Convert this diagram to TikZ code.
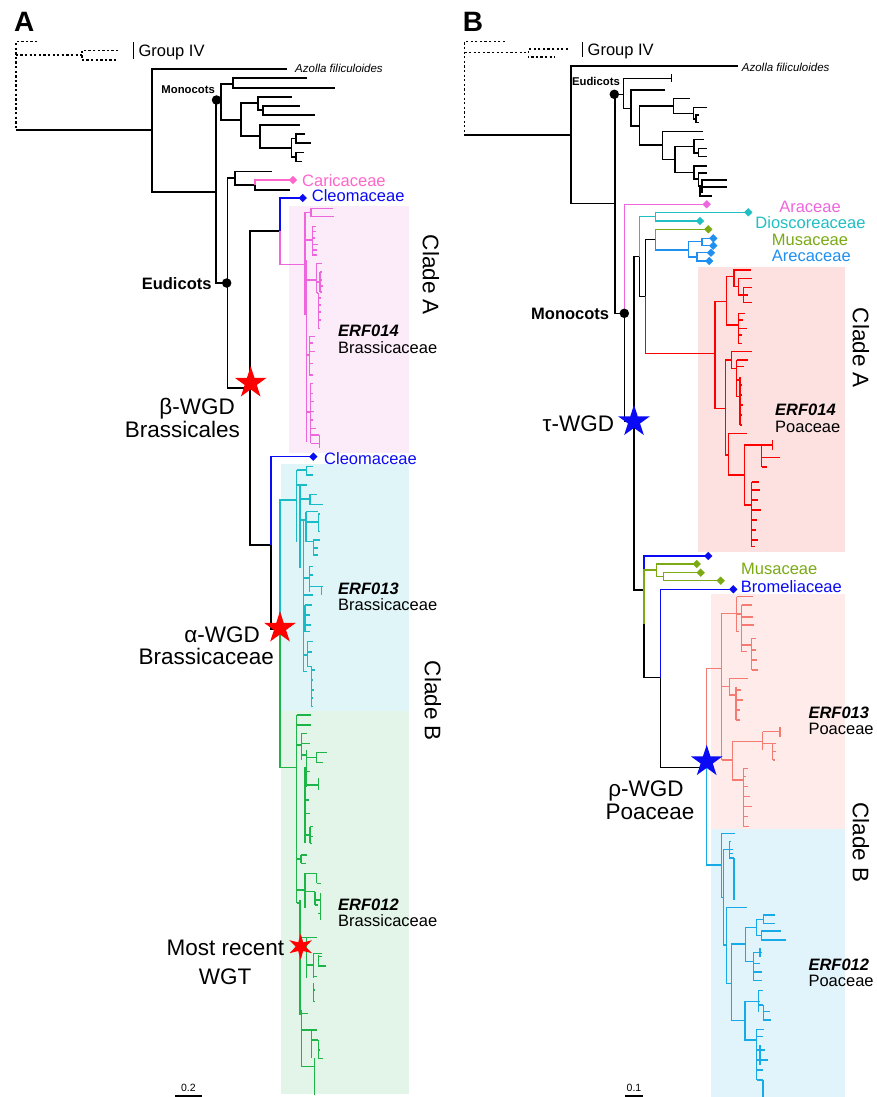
\documentclass[tikz,border=0pt]{standalone}
\usepackage{fontspec}
\setmainfont{Liberation Sans}
\usetikzlibrary{shapes.geometric}
\definecolor{apink}{HTML}{EE66DD}
\definecolor{cpink}{HTML}{FF66CC}
\definecolor{cblue}{HTML}{0A0AF5}
\definecolor{acyan}{HTML}{19BBC6}
\definecolor{agreen}{HTML}{1DB548}
\definecolor{bteal}{HTML}{1FBFC4}
\definecolor{bolive}{HTML}{7BAA15}
\definecolor{bsky}{HTML}{1F8FF0}
\definecolor{bred}{HTML}{FF0000}
\definecolor{bsalmon}{HTML}{F47B72}
\definecolor{blblue}{HTML}{16AAE6}
\definecolor{bgpink}{HTML}{FCECFA}
\definecolor{bgcyan}{HTML}{E0F5F8}
\definecolor{bggreen}{HTML}{E2F5E8}
\definecolor{bgred}{HTML}{FDE1E1}
\definecolor{bgsalmon}{HTML}{FEEBEA}
\definecolor{bglblue}{HTML}{E2F4FB}
\tikzset{
  tr/.style={line width=1.5pt},
  dotl/.style={line width=1.6pt, dash pattern=on 2.3pt off 2.3pt},
  sm/.style={font=\fontsize{16.5}{18}\selectfont, inner sep=0},
  smb/.style={font=\fontsize{16.5}{18}\selectfont\bfseries, inner sep=0},
  erf/.style={font=\fontsize{16.5}{18}\selectfont\bfseries\itshape, inner sep=0, anchor=base west},
  tiny/.style={font=\fontsize{11.3}{13}\selectfont\bfseries, inner sep=0},
  azo/.style={font=\fontsize{11.5}{13}\selectfont\itshape, inner sep=0, anchor=base west},
  big/.style={font=\fontsize{22.5}{25}\selectfont, inner sep=0},
  pan/.style={font=\fontsize{28}{30}\selectfont\bfseries, inner sep=0, anchor=base west},
  dmd/.style={diamond, inner sep=0, minimum width=8.5, minimum height=8.5, draw=none},
  ndot/.style={circle, fill=black, inner sep=0, minimum size=9.5},
  wstar/.style={star, star points=5, star point ratio=2.618, inner sep=0, minimum size=33.4, draw=none},
}
% horizontal: color, x1, y, x2
\newcommand\trH[4]{\draw[tr,#1] (#2,#3)--(#4,#3);}
% vertical: color, x, y1, y2
\newcommand\trV[4]{\draw[tr,#1] (#2,#3)--(#2,#4);}
% fork: color, x, ytop, xtopend, ybot, xbotend
\newcommand\trF[6]{\draw[tr,#1] (#4,#3)--(#2,#3)--(#2,#5)--(#6,#5);}
% bicolour fork: c1, c2, x, ytop, xtopend, ybot, xbotend, ymid
\newcommand\trB[8]{\draw[tr,#1] (#5,#4)--(#3,#4)--(#3,#8); \draw[tr,#2] (#3,#8)--(#3,#6)--(#7,#6);}
% comb: color, x, y1, y2, list y/xend
\newcommand\trC[5]{\draw[tr,#1] (#2,#3)--(#2,#4); \foreach \tY/\tE in {#5} {\draw[tr,#1] (#2,\tY)--(\tE,\tY);}}
% diamond: name, color, x, y
\newcommand\dm[4]{\node[dmd, fill=#2] (#1) at (#3,#4) {};}
\begin{document}
\begin{tikzpicture}[x=1pt,y=-1pt]
\useasboundingbox (0,0) rectangle (876,1097);
\fill[white] (0,0) rectangle (876,1097);
% ================= PANEL A =================
\fill[bgpink] (289,205.7) rectangle (409,452.7);
\fill[bgcyan] (280.7,464) rectangle (409,710.7);
\fill[bggreen] (280.7,710.7) rectangle (409,1094);
\node[pan] (labA) at (14,31.7) {A};
\draw[dotl] (37.3,41.7)--(15.7,41.7)--(15.7,130);
\draw[dotl] (15.7,55.3)--(81.7,55.3);
\draw[dotl] (118.3,50.7)--(81.7,50.7)--(81.7,60)--(118.3,60);
\draw[line width=1.5pt] (133.3,42)--(133.3,59);
\node[sm, anchor=base west] (grpA) at (138.3,56.7) {Group IV};
\trH{black}{15.7}{130}{152}
\trF{black}{152}{69}{287}{192}{216}
\node[azo] (azoA) at (295,72.4) {Azolla filiculoides};
\trF{black}{216}{100}{221}{283}{227.3}
% monocots A
\trF{black}{221}{84}{233}{120}{241}
\trF{black}{233}{78}{307}{88}{335}
\trF{black}{241}{103}{258}{136}{260}
\trF{black}{258}{97}{292}{110}{263}
\trF{black}{263}{106}{300}{115}{315}
\trF{black}{260}{125}{300}{148}{291.7}
\trF{black}{291.7}{138.5}{296}{157}{296}
\trF{black}{296}{134}{305.3}{143}{310.7}
\trF{black}{296}{152.7}{304}{161.7}{301.7}
\node[ndot] (dmonoA) at (216.5,100) {};
\node[tiny, anchor=base east] (monoA) at (215,93.4) {Monocots};
% eudicots A
\trF{black}{227.3}{178}{235}{388}{250}
\trF{black}{235}{171.7}{272}{185}{255}
\trB{cpink}{black}{255}{180}{293}{190}{290}{185}
\dm{dCar}{cpink}{293}{180}
\node[sm, anchor=base west, text=cpink] (car) at (302,186) {Caricaceae};
\trF{black}{250}{231}{280}{545}{271}
\trB{cblue}{apink}{280}{198}{302.7}{264.3}{305}{231}
\dm{dCleo1}{cblue}{302.7}{198}
\node[sm, anchor=base west, text=cblue] (cleo1) at (311.7,201.5) {Cleomaceae};
\trB{cblue}{black}{271}{456.7}{313.3}{629}{280}{545}
\dm{dCleo2}{cblue}{313.3}{456.7}
\node[sm, anchor=base west, text=cblue] (cleo2) at (324,464) {Cleomaceae};
\node[ndot] (deudA) at (226.7,283) {};
\node[smb, anchor=base east] (eudA) at (211.7,289) {Eudicots};
% pink ERF014 clade
\trV{apink}{305}{212.3}{315}
\trH{apink}{305}{212.3}{311}
\trF{apink}{311}{208.3}{333.3}{216.7}{334}
\trV{apink}{306.7}{260}{441.7}
\trH{apink}{305}{240}{312.3}
\trC{apink}{312.3}{226.7}{255}{226.7/316.3, 231.7/316.3, 238/315, 244.3/318.3, 250/316.7, 255/317.3}
\trH{apink}{306.7}{280}{316.7}
\trC{apink}{316.7}{263.3}{293}{263.3/321.7, 293/318.3}
\trH{apink}{316.7}{282}{320}
\trC{apink}{320}{272}{292}{272/322.3, 280/321.7, 286/323.3, 292/321.7}
\trC{apink}{318.3}{293}{328.3}{298/320.5, 305/320.5, 312/321, 320/320.5, 328.3/320}
\trH{apink}{306.7}{355}{309.3}
\trC{apink}{309.3}{336.7}{375}{336.7/315, 343/313.3, 351.7/315, 363.3/313.3, 375/312.7}
\trH{apink}{306.7}{412}{310.7}
\trC{apink}{310.7}{383.3}{443.3}{383.3/313.3, 393.3/313.3, 401.7/314.3, 411.7/314, 420/313.3, 428.3/316, 435/319.3, 443.3/319.3}
\trV{apink}{319.3}{435}{448}
% alpha node A
\trB{acyan}{agreen}{280}{500}{296.7}{767.7}{296.7}{629}
% cyan ERF013 clade
\trV{acyan}{296.7}{470}{541.7}
\trH{acyan}{296.7}{470}{306.7}
\trF{acyan}{306.7}{466.7}{313.3}{475}{313.3}
\trV{acyan}{300}{485}{568.3}
\trH{acyan}{296.7}{485}{307.3}
\trH{acyan}{300}{499}{310}
\trF{acyan}{310}{494.3}{316.7}{504.3}{323.3}
\trH{acyan}{300}{520}{306}
\trV{acyan}{306}{511.7}{541.7}
\trH{acyan}{306}{511.7}{318.3}
\trH{acyan}{306}{522}{318.3}
\trF{acyan}{318.3}{514}{320}{531.7}{320}
\trH{acyan}{306}{541.7}{313.3}
\trC{acyan}{313.3}{540}{555}{540/320, 548/318.3, 555/318.3}
\trC{acyan}{303.3}{520}{671.7}{595/312.7, 671.7/307}
\trH{acyan}{303.3}{578}{309.3}
\trC{acyan}{309.3}{566.7}{591.7}{566.7/313.3, 575/313.3, 586.7/323.3}
\trV{acyan}{321.7}{586.7}{595}
\trC{acyan}{305}{605}{631.7}{605/311.7, 615/310, 625/311, 631.7/310}
\trH{acyan}{303.3}{655}{307.3}
\trC{acyan}{307.3}{641.7}{666.7}{641.7/313.3, 652/312, 666.7/311.7}
\trC{acyan}{311.7}{666.7}{706.7}{670/315, 680/313.3, 690/314.3, 698/313.3, 706.7/313.3}
% green ERF012 clade
\trV{agreen}{296.7}{715}{903}
\trH{agreen}{296.7}{715}{311}
\trH{agreen}{296.7}{725}{311}
\trC{agreen}{301.7}{733.3}{760}{733.3/306.7, 743.3/310}
\trH{agreen}{296.7}{745}{301.7}
\trV{agreen}{306.7}{750}{786.7}
\trH{agreen}{301.7}{755}{306.7}
\trH{agreen}{306.7}{757.3}{316.7}
\trF{agreen}{316.7}{752.7}{326.7}{762.7}{323.3}
\trH{agreen}{306.7}{771.7}{310}
\trH{agreen}{306.7}{785}{318.3}
\trV{agreen}{318.3}{778.3}{790}
\trC{agreen}{305}{766.7}{843.3}{800/309.3, 813.3/310}
\trH{agreen}{305}{835}{310}
\trC{agreen}{310}{826.7}{843.3}{826.7/313.3, 836.7/312.7, 843.3/311.7}
\trH{agreen}{296.7}{859}{301}
\trC{agreen}{301}{855}{863.3}{855/306.7, 863.3/306}
\trH{agreen}{296.7}{890}{305}
\trC{agreen}{305}{873.3}{908}{873.3/316.7, 891.7/315}
\trV{agreen}{316.7}{873.3}{883.3}
\trH{agreen}{316.7}{883.3}{320.7}
\trC{agreen}{315}{891.7}{905}{900/320.7, 905/318.3}
\trV{agreen}{320.7}{892.7}{920}
\trH{agreen}{318.3}{913.3}{320.7}
\trV{agreen}{300}{900}{1015}
\trH{agreen}{296.7}{903}{300}
\trH{agreen}{300}{937.3}{316.7}
\trV{agreen}{306.7}{937.3}{978}
\trH{agreen}{306.7}{965}{313.3}
\trC{agreen}{313.3}{953.3}{978.3}{953.3/321.7, 976.7/316.7}
\trC{agreen}{318.3}{955}{966}{956.7/321.7, 966/326}
\trC{agreen}{313.3}{983.3}{1001.7}{990/315, 1001.7/315}
\trH{agreen}{300}{1013.3}{308.3}
\trV{agreen}{301.7}{1010}{1066.7}
\trH{agreen}{301.7}{1030}{316.7}
\trV{agreen}{311.7}{1030}{1058.3}
\trH{agreen}{311.7}{1040}{318.3}
\trC{agreen}{318.3}{1040}{1058.3}{1050/320, 1058.3/322.7}
\trH{agreen}{301.7}{1066.7}{314.3}
\trV{agreen}{314.3}{1058}{1095}
% stars A
\node[wstar, fill=red] (sbeta) at (250.7,383) {};
\node[wstar, fill=red] (salpha) at (280,628) {};
\node[star, star points=6, star point ratio=2.6, inner sep=0, minimum size=26, fill=red] (swgt) at (300.7,946.7) {};
% labels A
\node[big, anchor=base east] (beta1) at (235,414) {β-WGD};
\node[big, anchor=base east] (beta2) at (240,437.4) {Brassicales};
\node[big, anchor=base east] (alp1) at (260,642.4) {α-WGD};
\node[big, anchor=base east] (alp2) at (274,664.8) {Brassicaceae};
\node[big, anchor=base] (wgt1) at (225.5,955.4) {Most recent};
\node[big, anchor=base] (wgt2) at (225,984) {WGT};
\node[erf] (e14a) at (338,336.7) {ERF014};
\node[sm, anchor=base west] (b14a) at (338,353.3) {Brassicaceae};
\node[erf] (e13a) at (338,594.3) {ERF013};
\node[sm, anchor=base west] (b13a) at (338,610) {Brassicaceae};
\node[erf] (e12a) at (338,910) {ERF012};
\node[sm, anchor=base west] (b12a) at (338,926) {Brassicaceae};
\node[big, rotate=-90] (cladeAA) at (431,275) {Clade A};
\node[big, rotate=-90] (cladeBA) at (433,701) {Clade B};
\node[font=\fontsize{10.5}{12}\selectfont, inner sep=0] (scA) at (188.3,1088) {0.2};
\draw[line width=2pt] (175,1095.5)--(202.3,1095.5);
% ================= PANEL B =================
\fill[bgred] (698.3,267.3) rectangle (845,551.7);
\fill[bgsalmon] (711,594) rectangle (845,829.3);
\fill[bglblue] (711,829.3) rectangle (845,1097);
\node[pan] (labB) at (462.7,31.7) {B};
\draw[dotl] (505,41.7)--(464.3,41.7)--(464.3,135);
\draw[dotl] (464.3,52.7)--(528.3,52.7);
\draw[dotl] (568,49.3)--(528.3,49.3)--(528.3,57.3)--(555,57.3);
\draw[line width=1.5pt] (582.7,42)--(582.7,57.5);
\node[sm, anchor=base west] (grpB) at (587.5,55.3) {Group IV};
\trH{black}{464.3}{135}{571}
\trF{black}{571}{66}{738}{203.3}{615}
\node[azo] (azoB) at (741.7,71.8) {Azolla filiculoides};
\trF{black}{615}{94.3}{623.3}{313.3}{624.3}
% eudicots B
\trF{black}{623.3}{78.3}{671.7}{108.3}{631}
\trV{black}{671.7}{74}{82.5}
\trF{black}{631}{90}{665}{126}{639.3}
\trF{black}{639.3}{106}{673.3}{145}{662.7}
\trF{black}{673.3}{98.7}{690}{113.3}{693.3}
\trF{black}{693.3}{107.3}{707.3}{119}{696}
\trF{black}{696}{115}{699}{122.7}{699}
\trF{black}{662.7}{131.7}{703.3}{159.3}{675}
\trF{black}{675}{146.7}{694}{172.3}{694}
\trF{black}{694}{139.3}{704}{153}{698.3}
\trF{black}{698.3}{148.3}{706.7}{156.7}{706.7}
\trF{black}{694}{166}{707}{179}{698.3}
\trF{black}{698.3}{173}{707}{186}{702}
\trF{black}{702}{180}{726.7}{192}{700}
\trF{black}{700}{187}{726.7}{196}{712}
\node[ndot] (deudB) at (614.3,94.3) {};
\node[tiny, anchor=base east] (eudB) at (620,85.8) {Eudicots};
% monocots B
\trB{apink}{black}{624.3}{204.3}{706.7}{421.7}{634}{313.3}
\dm{dAra}{apink}{706.7}{204.3}
\trF{black}{634}{256.7}{639.3}{590}{644}
\trB{bteal}{black}{639.3}{216.7}{655.7}{296.7}{645.7}{256.7}
\trF{bteal}{655.7}{212.3}{748.3}{221}{700}
\dm{dDio1}{bteal}{748.3}{212.3}
\dm{dDio2}{bteal}{700}{221}
\trB{black}{bred}{645.7}{239.3}{655.7}{353.3}{715}{296.3}
\trB{bolive}{bsky}{655.7}{229.3}{708.3}{250}{688.3}{239.3}
\dm{dMus1}{bolive}{708.3}{229.3}
\trF{bsky}{688.3}{241.5}{702}{257}{697}
\trF{bsky}{702}{238.3}{713.3}{245.7}{713.3}
\trF{bsky}{697}{252.7}{711}{261}{709.3}
\dm{dAre1}{bsky}{713.3}{238.3}
\dm{dAre2}{bsky}{713.3}{245.7}
\dm{dAre3}{bsky}{711}{252.7}
\dm{dAre4}{bsky}{709.3}{261}
\node[ndot] (dmonoB) at (624.3,313.3) {};
\node[smb, anchor=base east] (monoB) at (609.3,319.1) {Monocots};
% red ERF014
\trF{bred}{715}{301.7}{726.7}{408.3}{725.7}
\trF{bred}{726.7}{276.7}{734}{325}{738.3}
\trF{bred}{734}{270}{750.7}{286.7}{738.3}
\trF{bred}{738.3}{278.3}{751.7}{295}{743.3}
\trC{bred}{743.3}{287.3}{302.7}{287.3/751.7, 295/748, 302.7/752.3}
\trC{bred}{738.3}{313.3}{343.3}{313.3/745, 320/743, 328.3/746.7, 335/742, 343.3/742}
\trF{bred}{725.7}{360}{731.7}{455}{728.3}
\trF{bred}{731.7}{351.7}{751.7}{368.3}{736.7}
\trC{bred}{736.7}{360}{396.7}{360/748.3, 366.7/744, 380/741, 396.7/740}
\trC{bred}{740}{376.7}{425}{385/742, 395/742, 405/742.5, 415/742, 425/742}
\trF{bred}{728.3}{433.3}{746.7}{475}{744.3}
\trF{bred}{744.3}{445}{761.7}{505}{751.7}
\trC{bred}{761.7}{445}{467}{445/772.7, 457.3/780, 467/766.7}
\trV{bred}{772.7}{440}{450}
\trC{bred}{751.7}{482}{546.7}{482/759, 490/760, 500/758, 510/761, 520/757, 530/756, 540/758, 546.7/755}
% lower monocots B
\trB{cblue}{black}{644}{556}{708.3}{624}{644}{590}
\trB{bolive}{black}{644}{570}{656.7}{677.3}{660.7}{624}
\trF{bolive}{656.7}{564}{696.7}{576.7}{663.3}
\trF{bolive}{663.3}{572.7}{700.7}{580.7}{720.7}
\dm{dB1}{cblue}{708.3}{556}
\dm{dMus2}{bolive}{696.7}{564}
\dm{dMus3}{bolive}{700.7}{572.7}
\dm{dMus4}{bolive}{720.7}{580.7}
\trB{cblue}{black}{660.7}{589.3}{733.3}{767.3}{706.7}{678.3}
\dm{dBro}{cblue}{733.3}{589.3}
\trB{bsalmon}{blblue}{706.7}{668.3}{721.7}{865}{721.7}{762}
% salmon ERF013
\trV{bsalmon}{721.7}{613.3}{760}
\trH{bsalmon}{721.7}{613.3}{736.7}
\trC{bsalmon}{736.7}{596.7}{631.7}{596.7/753.3, 631.7/739.3}
\trH{bsalmon}{736.7}{614}{741.7}
\trC{bsalmon}{741.7}{605}{651.7}{605/751.7, 617/752.7, 625/754, 651.7/747}
\trH{bsalmon}{741.7}{645}{751.7}
\trC{bsalmon}{751.7}{638.3}{670}{638.3/756, 650/755.7, 660/757.3, 670/758.3}
\trH{bsalmon}{721.7}{686.7}{729.3}
\trF{bsalmon}{729.3}{678.3}{748.3}{695}{736}
\trC{bsalmon}{736}{686.7}{720}{690/741, 700/743.3, 710/740, 720/740}
\trF{bsalmon}{732.7}{741.7}{762.7}{780}{743.3}
\trH{bsalmon}{721.7}{760}{732.7}
\trC{bsalmon}{762.7}{731.7}{750}{731.7/780, 743.3/776}
\trV{bsalmon}{780}{726.7}{736.7}
\trC{bsalmon}{772.7}{743.3}{760}{751.7/776, 760/775}
\trC{bsalmon}{743.3}{768.3}{826.7}{768.3/748.3, 776.7/746, 786.7/748, 796.7/750, 806.7/752, 816.7/748, 826.7/749}
% light blue ERF012
\trF{blblue}{721.7}{833.3}{735}{897.3}{723.3}
\trF{blblue}{723.3}{849.3}{733.3}{945}{726.7}
\trC{blblue}{729.3}{841.7}{858}{841.7/731, 853.3/733.3}
\trV{blblue}{734}{857.7}{900}
\trH{blblue}{729.3}{858}{734}
\trF{blblue}{726.7}{907.3}{746.7}{983.3}{731.7}
\trF{blblue}{731.7}{944}{745.7}{1020.7}{745}
\trF{blblue}{745.7}{927.3}{756.7}{961.7}{753.3}
\trF{blblue}{756.7}{919.3}{763.3}{935.7}{761.7}
\trF{blblue}{763.3}{915}{775}{923.3}{775}
\trF{blblue}{761.7}{931}{781}{940}{785.7}
\trC{blblue}{753.3}{952.7}{980.7}{952.7/761.7, 963.3/760, 972/761.7, 980.7/761.7}
\trV{blblue}{760}{948.3}{956.7}
\trF{blblue}{745}{1001.7}{758.3}{1040}{756.7}
\trC{blblue}{758.3}{990.7}{1011.7}{990.7/763.3, 1001.7/760, 1005/763.3}
\trC{blblue}{763.3}{1005}{1020}{1011.7/770, 1020/770.7}
\trC{blblue}{756.7}{1029.3}{1080}{1029.3/764, 1036.7/762.7, 1050/765, 1060/767.7, 1070/763.3, 1080/763}
\trV{blblue}{763}{1080}{1097}
\trV{blblue}{760}{1045}{1065}
% stars B
\node[wstar, fill=cblue] (stau) at (634,421.5) {};
\node[wstar, fill=cblue] (srho) at (706.7,761.5) {};
% labels B
\node[sm, anchor=base, text=apink] (ara) at (810,212.7) {Araceae};
\node[sm, anchor=base, text=bteal] (dio) at (810.5,228.7) {Dioscoreaceae};
\node[sm, anchor=base, text=bolive] (mus1) at (810,245) {Musaceae};
\node[sm, anchor=base, text=bsky] (are) at (811.3,261.7) {Arecaceae};
\node[sm, anchor=base west, text=bolive] (mus2) at (741,574.3) {Musaceae};
\node[sm, anchor=base west, text=cblue] (bro) at (740.7,592.7) {Bromeliaceae};
\node[big, anchor=base east] (tau) at (614.3,431.4) {τ-WGD};
\node[big, anchor=base] (rho1) at (646,796.4) {ρ-WGD};
\node[big, anchor=base] (rho2) at (650,819.8) {Poaceae};
\node[erf] (e14b) at (775,415.3) {ERF014};
\node[sm, anchor=base west] (p14b) at (775,432.7) {Poaceae};
\node[erf] (e13b) at (808.3,718.3) {ERF013};
\node[sm, anchor=base west] (p13b) at (808.3,734.3) {Poaceae};
\node[erf] (e12b) at (808.3,970) {ERF012};
\node[sm, anchor=base west] (p12b) at (808.3,986.7) {Poaceae};
\node[big, rotate=-90] (cladeAB) at (861,348) {Clade A};
\node[big, rotate=-90] (cladeBB) at (861,842.5) {Clade B};
\node[font=\fontsize{10.5}{12}\selectfont, inner sep=0] (scB) at (634,1088) {0.1};
\draw[line width=2pt] (625,1095.5)--(643.3,1095.5);
\end{tikzpicture}
\end{document}
